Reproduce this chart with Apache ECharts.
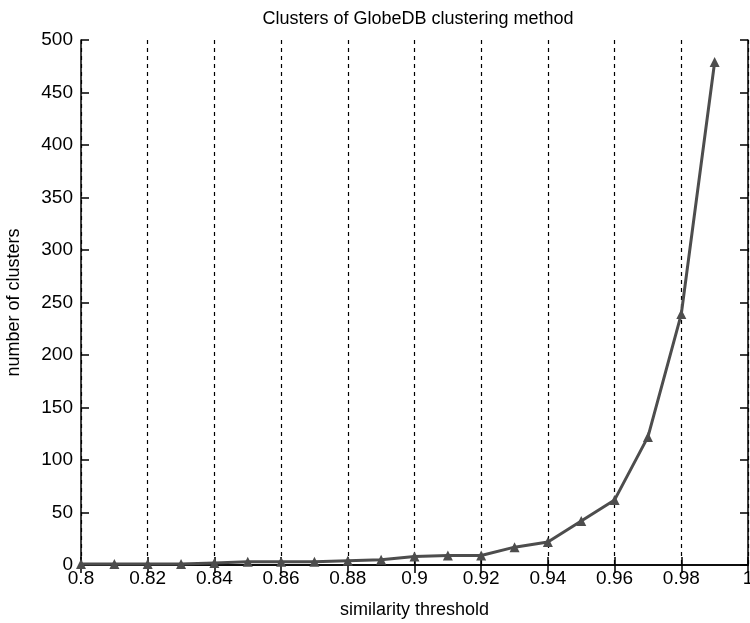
<!DOCTYPE html>
<html>
<head>
<meta charset="utf-8">
<script src="https://cdn.jsdelivr.net/npm/echarts@6/dist/echarts.min.js"></script>
<style>
html,body{margin:0;padding:0;background:#fff;}
#c{width:750px;height:623px;}
</style>
</head>
<body>
<div id="c"></div>
<script>
var thresholds = [0.80,0.81,0.82,0.83,0.84,0.85,0.86,0.87,0.88,0.89,0.90,0.91,0.92,0.93,0.94,0.95,0.96,0.97,0.98,0.99];
var clusters   = [1,1,1,1,2,3,3,3,4,5,8,9,9,17,22,42,62,122,239,479];
var titleText = 'Clusters of GlobeDB clustering method';
var xName = 'similarity threshold';
var yName = 'number of clusters';

var font = 'Liberation Sans, Arial, Helvetica, sans-serif';
var data = thresholds.map(function(t,i){return [t, clusters[i]];});
var chart = echarts.init(document.getElementById('c'));
var fmt = function(v){ return String(parseFloat(v.toFixed(2))); };
chart.setOption({
  animation:false,
  backgroundColor:'#fff',
  title:{text:titleText,left:413,top:5,textAlign:'center',
    textStyle:{fontFamily:font,fontSize:18,fontWeight:'normal',color:'#000'}},
  grid:{left:81,right:2,top:40,bottom:58,containLabel:false,outerBoundsMode:'none'},
  xAxis:[{
    type:'value',min:0.8,max:1,interval:0.02,
    name:xName,nameLocation:'middle',nameGap:36,
    nameTextStyle:{fontFamily:font,fontSize:18,color:'#000'},
    axisLine:{lineStyle:{color:'#000',width:1.5}},
    axisTick:{inside:true,length:8,lineStyle:{color:'#000',width:1.5}},
    axisLabel:{formatter:fmt,fontFamily:font,fontSize:19,color:'#000',margin:4,hideOverlap:false},
    splitLine:{show:true,lineStyle:{color:'#000',type:[4,4],width:1.2}}
  },{
    type:'value',min:0.8,max:1,interval:0.02,position:'top',
    axisLine:{lineStyle:{color:'#000',width:1.5}},
    axisTick:{inside:true,length:8,lineStyle:{color:'#000',width:1.5}},
    axisLabel:{show:false},splitLine:{show:false}
  }],
  yAxis:[{
    type:'value',min:0,max:500,interval:50,
    name:yName,nameLocation:'middle',nameGap:58,
    nameTextStyle:{fontFamily:font,fontSize:18,color:'#000'},
    axisLine:{lineStyle:{color:'#000',width:1.5}},
    axisTick:{inside:true,length:8,lineStyle:{color:'#000',width:1.5}},
    axisLabel:{fontFamily:font,fontSize:19,color:'#000',margin:8},
    splitLine:{show:false}
  },{
    type:'value',min:0,max:500,interval:50,position:'right',
    axisLine:{show:true,lineStyle:{color:'#000',width:1.5}},
    axisTick:{inside:true,length:8,lineStyle:{color:'#000',width:1.5}},
    axisLabel:{show:false},splitLine:{show:false}
  }],
  series:[{
    type:'line',data:data,xAxisIndex:0,yAxisIndex:0,
    symbol:'triangle',symbolSize:10,showAllSymbol:true,
    lineStyle:{color:'#4d4d4d',width:3},
    itemStyle:{color:'#4d4d4d'}
  }]
});
</script>
</body>
</html>
